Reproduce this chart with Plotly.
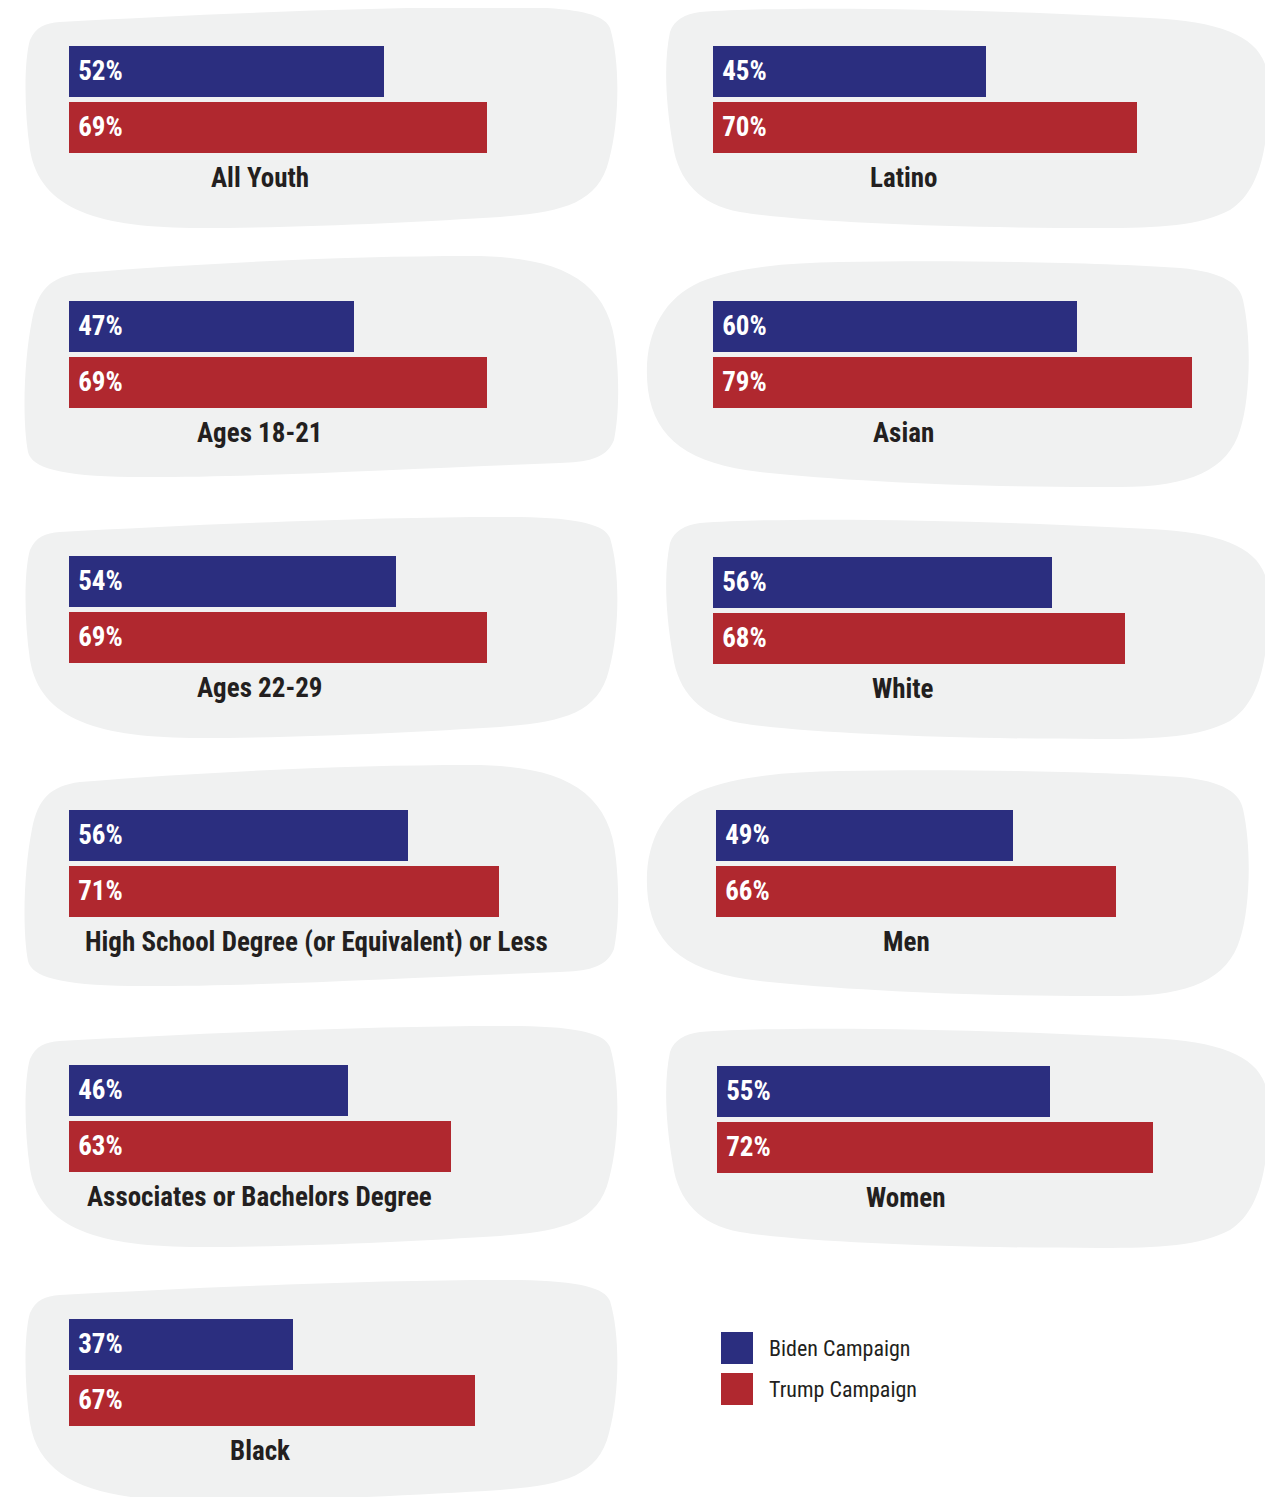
import plotly.graph_objects as go

# ---------------- data ----------------
groups = ["All Youth", "Latino", "Ages 18-21", "Asian", "Ages 22-29", "White",
          "High School Degree (or Equivalent) or Less", "Men",
          "Associates or Bachelors Degree", "Women", "Black"]
biden = [52, 45, 47, 60, 54, 56, 56, 49, 46, 55, 37]
trump = [69, 70, 69, 79, 69, 68, 71, 66, 63, 72, 67]
series_names = ["Biden Campaign", "Trump Campaign"]

BLUE = "#2b2e7f"
RED = "#b0282f"
BLOB = "#f0f1f1"
INK = "#231f20"
FONT = "Roboto Condensed, Liberation Sans Narrow, Roboto, sans-serif"

PAGE_OFF = 8            # the html body margin
W, H = 1273 - PAGE_OFF, 1497 - PAGE_OFF
PX_PER_PCT = 6.06
XMAX = 90
PITCH = 56      # px per category row
BAR_PX = 51     # bar thickness px

# layout per panel: bar-left px, blue-bar-top px, label-center px, blob template, blob shift
panel_layout = [
    (69, 45, 260, "L1", 0),
    (713, 45, 903, "R1", 0),
    (69, 300, 260, "L2", 0),
    (713, 300, 903, "R2", 0),
    (69, 555, 260, "L1", 510),
    (713, 556, 903, "R1", 511),
    (69, 809, 316, "L2", 509),
    (716, 809, 906, "R2", 509),
    (69, 1064, 260, "L1", 1019),
    (717, 1065, 906, "R1", 1020),
    (69, 1318, 260, "L1", 1273),
]

# blob outlines in pixel coordinates (start point + cubic segments)
blob_templates = {
    "L1": [(60, 22),
           [(200, 14), (400, 6), (520, 7)],
           [(580, 8), (605, 15), (610, 28)],
           [(620, 60), (620, 120), (609, 160)],
           [(598, 205), (560, 212), (500, 217)],
           [(420, 222), (300, 228), (200, 228)],
           [(100, 228), (40, 210), (30, 150)],
           [(24, 110), (24, 60), (30, 40)],
           [(36, 27), (45, 23), (60, 22)]],
    "L2": [(80, 273),
           [(200, 263), (350, 256), (470, 256)],
           [(560, 256), (610, 280), (616, 350)],
           [(620, 390), (618, 420), (614, 440)],
           [(606, 460), (585, 462), (560, 463)],
           [(420, 468), (250, 478), (130, 477)],
           [(60, 476), (32, 468), (28, 452)],
           [(22, 420), (24, 360), (32, 320)],
           [(38, 290), (50, 277), (80, 273)]],
    "R1": [(700, 12),
           [(800, 5), (1000, 10), (1150, 18)],
           [(1230, 22), (1266, 40), (1268, 80)],
           [(1270, 140), (1262, 190), (1230, 210)],
           [(1200, 226), (1160, 228), (1100, 228)],
           [(950, 228), (800, 222), (740, 212)],
           [(700, 205), (678, 180), (673, 145)],
           [(665, 100), (664, 60), (670, 32)],
           [(674, 20), (685, 14), (700, 12)]],
    "R2": [(840, 262),
           [(950, 260), (1100, 262), (1180, 268)],
           [(1225, 272), (1240, 285), (1243, 300)],
           [(1252, 340), (1250, 400), (1240, 430)],
           [(1228, 470), (1190, 487), (1120, 487)],
           [(1000, 488), (850, 482), (760, 472)],
           [(690, 464), (655, 440), (648, 390)],
           [(642, 340), (660, 300), (700, 282)],
           [(740, 266), (790, 263), (840, 262)]],
}


def fx(px):
    return (px - PAGE_OFF) / W


def fy(py):
    return 1 - (py - PAGE_OFF) / H


def blob_path(name, dy):
    t = blob_templates[name]
    sx, sy = t[0]
    s = f"M {fx(sx):.5f},{fy(sy + dy):.5f}"
    for seg in t[1:]:
        s += " C " + " ".join(f"{fx(x):.5f},{fy(y + dy):.5f}" for x, y in seg)
    return s + " Z"


fig = go.Figure()
shapes = []
annotations = []
layout_axes = {}

for i, g in enumerate(groups):
    n = i + 1
    xa = "x" if n == 1 else f"x{n}"
    ya = "y" if n == 1 else f"y{n}"
    left, top, lab_cx, tmpl, dy = panel_layout[i]

    fig.add_trace(go.Bar(
        x=[biden[i], trump[i]], y=series_names, orientation="h",
        marker=dict(color=[BLUE, RED], line=dict(width=0)),
        width=BAR_PX / PITCH,
        text=[f"\u00a0{biden[i]}%", f"\u00a0{trump[i]}%"],
        textposition="inside", insidetextanchor="start",
        textfont=dict(family=FONT, size=27, color="white", weight="bold"),
        xaxis=xa, yaxis=ya, hoverinfo="skip", showlegend=False,
    ))

    d_top = top - (PITCH - BAR_PX) / 2
    d_bot = d_top + 2 * PITCH
    layout_axes["xaxis" if n == 1 else f"xaxis{n}"] = dict(
        domain=[fx(left), fx(left + XMAX * PX_PER_PCT)], range=[0, XMAX],
        visible=False, fixedrange=True, anchor=ya)
    layout_axes["yaxis" if n == 1 else f"yaxis{n}"] = dict(
        domain=[fy(d_bot), fy(d_top)], type="category",
        categoryorder="array", categoryarray=series_names,
        range=[1.5, -0.5], visible=False, fixedrange=True, anchor=xa)

    shapes.append(dict(type="path", xref="paper", yref="paper",
                       path=blob_path(tmpl, dy), fillcolor=BLOB,
                       line=dict(width=0), layer="below"))

    annotations.append(dict(
        x=fx(lab_cx), y=fy(top + 133), xref="paper", yref="paper",
        text=g, showarrow=False, xanchor="center", yanchor="middle",
        font=dict(family=FONT, size=27, color=INK, weight="bold")))

# legend (swatches + labels)
legend_colors = [BLUE, RED]
for k, name in enumerate(series_names):
    y0 = 1332 + 41 * k
    shapes.append(dict(type="rect", xref="paper", yref="paper",
                       x0=fx(721), x1=fx(753), y0=fy(y0 + 32), y1=fy(y0),
                       fillcolor=legend_colors[k], line=dict(width=0)))
    annotations.append(dict(
        x=fx(767), y=fy(y0 + 16), xref="paper", yref="paper",
        text=name, showarrow=False, xanchor="left", yanchor="middle",
        font=dict(family=FONT, size=22, color=INK)))

fig.update_layout(
    width=W, height=H, margin=dict(l=0, r=0, t=0, b=0),
    paper_bgcolor="white", plot_bgcolor="rgba(0,0,0,0)",
    showlegend=False, bargap=0, shapes=shapes, annotations=annotations,
    **layout_axes,
)

fig.write_html("out.html")
